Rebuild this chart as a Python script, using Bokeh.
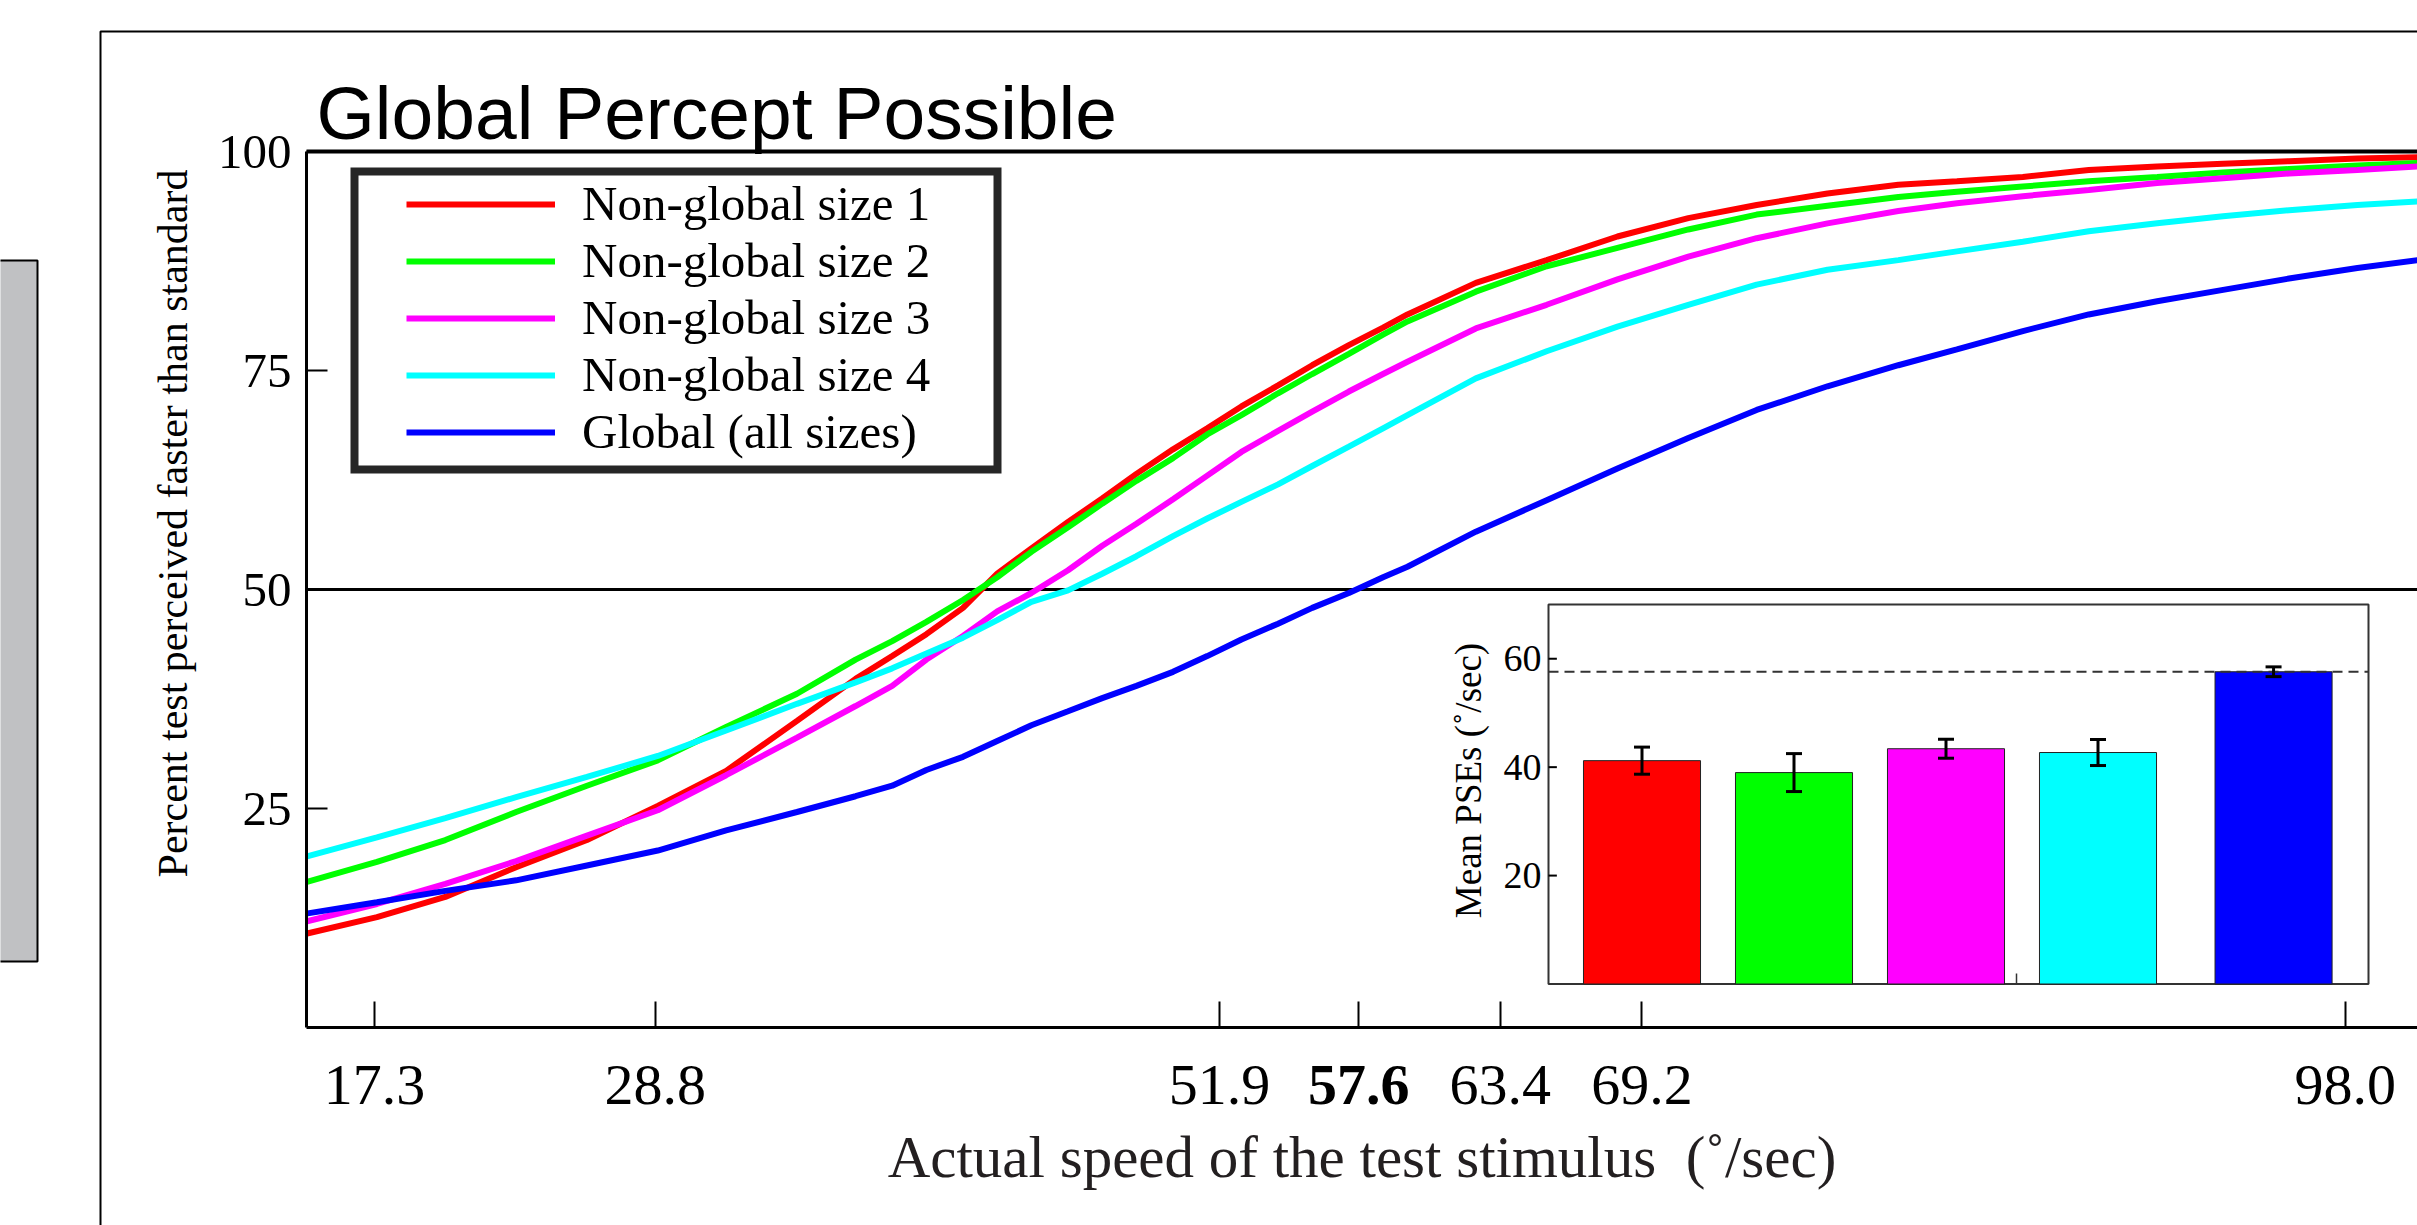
import numpy as np
from bokeh.plotting import figure
from bokeh.models import (Range1d, FixedTicker, Label, Legend, LegendItem,
                          BoxAnnotation, ColumnDataSource)
from bokeh.core.properties import value
from bokeh.embed import file_html
from bokeh.resources import INLINE

# ---------------- data ----------------
speed = [14.5, 17.4, 20.2, 23.1, 26.0, 28.9, 31.7, 34.6,
         37.0, 38.5, 39.9, 41.4, 42.8, 44.2, 45.7, 47.1, 48.5, 50.0, 51.4, 52.8, 54.3, 55.7, 57.2, 58.6,
         59.6, 62.4, 65.3, 68.2, 71.1, 73.9, 76.8, 79.7,
         82.1, 84.8, 87.5, 90.3, 93.0, 95.7, 98.5, 101.0]

size1 = [10.7, 12.6, 14.9, 18.3, 21.4, 25.3, 29.3, 35.0,
         39.8, 42.4, 44.9, 47.9, 51.8, 54.7, 57.7, 60.4, 63.2, 66.0, 68.4, 70.9, 73.3, 75.6, 77.9, 79.9,
         81.4, 85.0, 87.6, 90.3, 92.4, 93.9, 95.2, 96.2,
         96.6, 97.1, 97.9, 98.3, 98.6, 98.9, 99.2, 99.35]
size2 = [16.6, 18.9, 21.4, 24.6, 27.6, 30.5, 34.3, 38.1,
         42.0, 44.1, 46.3, 48.8, 51.4, 54.3, 57.1, 59.8, 62.4, 65.0, 67.7, 69.9, 72.4, 74.6, 76.9, 79.1,
         80.6, 84.0, 86.9, 89.0, 91.1, 92.8, 93.8, 94.8,
         95.4, 96.0, 96.6, 97.1, 97.6, 98.0, 98.4, 98.7]
size3 = [12.1, 14.1, 16.4, 19.0, 21.9, 24.8, 28.8, 33.1,
         36.7, 39.0, 42.0, 44.7, 47.5, 49.6, 52.2, 55.0, 57.5, 60.3, 63.0, 65.7, 68.1, 70.3, 72.6, 74.6,
         76.0, 79.8, 82.5, 85.4, 88.0, 90.1, 91.8, 93.2,
         94.1, 94.9, 95.6, 96.4, 96.95, 97.5, 97.9, 98.3]
size4 = [19.5, 21.7, 23.9, 26.3, 28.6, 31.0, 33.9, 36.95,
         39.4, 41.0, 42.7, 44.5, 46.5, 48.6, 49.9, 51.8, 53.8, 56.1, 58.1, 60.0, 62.0, 64.1, 66.3, 68.4,
         69.9, 74.1, 77.2, 80.0, 82.5, 84.8, 86.5, 87.6,
         88.6, 89.7, 90.9, 91.8, 92.6, 93.3, 93.9, 94.3]
global_all = [13.0, 14.3, 15.6, 16.8, 18.5, 20.2, 22.5, 24.6,
              26.4, 27.6, 29.4, 30.9, 32.7, 34.5, 36.1, 37.6, 39.0, 40.6, 42.4, 44.3, 46.1, 47.9, 49.6, 51.4,
              52.6, 56.6, 60.2, 63.8, 67.3, 70.5, 73.2, 75.6,
              77.4, 79.5, 81.4, 82.9, 84.2, 85.5, 86.7, 87.6]

series_names = ["Non-global size 1", "Non-global size 2", "Non-global size 3",
                "Non-global size 4", "Global (all sizes)"]
series_values = [size1, size2, size3, size4, global_all]
series_colors = ["#ff0000", "#00ff00", "#ff00ff", "#00ffff", "#0000ff"]

x_ticks = [17.3, 28.8, 51.9, 57.6, 63.4, 69.2, 98.0]
x_tick_labels = ["17.3", "28.8", "51.9", "57.6", "63.4", "69.2", "98.0"]
standard_speed = 57.6
y_ticks = [25, 50, 75, 100]
chance_level = 50
y_max = 100

pse_mean = [41.2, 39.0, 43.4, 42.7, 57.6]
pse_sem = [2.5, 3.5, 1.75, 2.4, 0.9]
inset_y_ticks = [20, 40, 60]
inset_y_tick_labels = ["20", "40", "60"]
inset_y_max = 70

# ---------------- layout (page pixels; canvas == page) ----------------
W, H = 2417, 1225
FR_L, FR_T, FR_B = 306, 151, 1027          # main plot area
X_REF_VAL, X_REF_PX, X_SCALE = 17.3, 374.0, 24.42
Y_SCALE = (FR_B - FR_T) / 100.0
X_LABEL_STANDOFF = 38


def px_x(px):
    return X_REF_VAL + (px - X_REF_PX) / X_SCALE


def px_y(py):
    return (FR_B - py) / Y_SCALE


IX0_PX, IX_SCALE = 1641.5, 152.0            # inset
IY0_PX, IY_SCALE = 983.5, 5.421


def ipx_x(px):
    return (px - IX0_PX) / IX_SCALE


def ipx_y(py):
    return (IY0_PX - py) / IY_SCALE


SERIF = "Liberation Serif"

p = figure(width=W, height=H, output_backend="svg", toolbar_location=None,
           x_range=Range1d(px_x(0), px_x(W)), y_range=Range1d(px_y(H), px_y(0)),
           min_border_left=0, min_border_right=0, min_border_top=0, min_border_bottom=0)
p.title.visible = False
p.extra_x_ranges = {"ix": Range1d(ipx_x(0), ipx_x(W))}
p.extra_y_ranges = {"iy": Range1d(ipx_y(H), ipx_y(0))}
p.grid.visible = False
p.outline_line_color = None
p.background_fill_color = "white"
p.border_fill_color = "white"

# decorations
p.add_layout(BoxAnnotation(left=px_x(100), right=px_x(2700), top=px_y(31), bottom=px_y(1500),
                           fill_alpha=0, line_color="black", line_alpha=1, line_width=2))
p.add_layout(BoxAnnotation(left=px_x(-30), right=px_x(37), top=px_y(260), bottom=px_y(961),
                           fill_color="#c0c1c3", fill_alpha=1, line_color="black", line_alpha=1,
                           line_width=2))

# title
p.add_layout(Label(x=px_x(316), y=px_y(112), text="Global Percept Possible",
                   text_font="Liberation Sans", text_font_size="75px", text_color="black",
                   text_align="left", text_baseline="middle"))

# reference lines (50 % and top)
x_left, x_right = px_x(FR_L), px_x(W + 20)
p.segment(x0=[x_left], x1=[x_right], y0=[chance_level], y1=[chance_level],
          line_color="black", line_width=3)
p.segment(x0=[x_left], x1=[x_right], y0=[y_max], y1=[y_max], line_color="black", line_width=4)

# curves
renderers = []
for name, vals, col in zip(series_names, series_values, series_colors):
    r = p.line(speed, vals, line_color=col, line_width=6)
    renderers.append(r)

# legend frame + legend
p.quad(left=[px_x(354)], right=[px_x(997)], top=[px_y(171)], bottom=[px_y(469)],
       fill_color=None, line_color="#262626", line_width=8, line_join="miter")
legend = Legend(items=[LegendItem(label=n, renderers=[r]) for n, r in zip(series_names, renderers)],
                location=(406, 765), padding=12, spacing=0, margin=0,
                glyph_width=149, glyph_height=40, label_standoff=27,
                label_text_font=SERIF, label_text_font_size="49px", label_text_color="black",
                border_line_color=None, background_fill_alpha=0)
p.add_layout(legend)

# axes (fixed at the plot-area edges)
xa = p.xaxis[0]
xa.fixed_location = 0
xa.bounds = (px_x(FR_L), px_x(W + 20))
xa.ticker = FixedTicker(ticks=x_ticks)
xa.major_label_overrides = {t: ("" if t == standard_speed else lab) for t, lab in zip(x_ticks, x_tick_labels)}
xa.major_tick_in = 26
xa.major_tick_out = 0
xa.major_tick_line_width = 2
xa.minor_tick_line_color = None
xa.axis_line_width = 3
xa.major_label_text_font = SERIF
xa.major_label_text_font_size = "58px"
xa.major_label_text_color = "black"
xa.major_label_standoff = X_LABEL_STANDOFF
xa.axis_label = "Actual speed of the test stimulus\u00a0 (\u02da/sec)"
xa.axis_label_text_font = SERIF
xa.axis_label_text_font_size = "59px"
xa.axis_label_text_font_style = "normal"
xa.axis_label_text_color = "#231f20"
xa.axis_label_standoff = 17

ya = p.yaxis[0]
ya.fixed_location = px_x(FR_L)
ya.bounds = (0, y_max)
ya.ticker = FixedTicker(ticks=y_ticks)
ya.major_tick_in = 21
ya.major_tick_out = 0
ya.major_tick_line_width = 2
ya.minor_tick_line_color = None
ya.axis_line_width = 3
ya.major_label_text_font = SERIF
ya.major_label_text_font_size = "49px"
ya.major_label_text_color = "black"
ya.major_label_standoff = 15

# bold standard tick label
p.add_layout(Label(x=standard_speed, y=px_y(FR_B + X_LABEL_STANDOFF), text="57.6", text_align="center",
                   text_baseline="top", text_font=SERIF, text_font_size="58px",
                   text_font_style="bold", text_color="black"))
# y axis title
p.add_layout(Label(x=px_x(172), y=px_y(523), text="Percent test perceived faster than standard",
                   angle=np.pi / 2, text_align="center", text_baseline="middle",
                   text_font=SERIF, text_font_size="42px", text_color="black"))

# ---------------- inset: mean PSEs ----------------
GLOBAL_GAP = 0.155
pos = np.arange(len(pse_mean)) + np.array([0, 0, 0, 0, GLOBAL_GAP])
mean = np.array(pse_mean)
sem = np.array(pse_sem)
in_l, in_r = ipx_x(1548), ipx_x(2368)

p.quad(left=[in_l], right=[in_r], bottom=[0], top=[inset_y_max], fill_color="white",
       line_color="#333333", line_width=2, x_range_name="ix", y_range_name="iy")
bsrc = ColumnDataSource(dict(x=pos, top=mean, color=series_colors))
p.vbar(x="x", top="top", bottom=0, width=0.77, fill_color="color", line_color="#222222",
       line_width=1, source=bsrc, x_range_name="ix", y_range_name="iy")
p.segment(x0=[in_l], x1=[in_r], y0=[standard_speed], y1=[standard_speed], line_color="#333333",
          line_width=2, line_dash="10 6", x_range_name="ix", y_range_name="iy")
p.segment(x0=pos, x1=pos, y0=mean - sem, y1=mean + sem, line_color="black", line_width=3,
          x_range_name="ix", y_range_name="iy")
p.scatter(x=np.concatenate([pos, pos]), y=np.concatenate([mean - sem, mean + sem]), marker="dash",
          size=16, line_color="black", line_width=3, x_range_name="ix", y_range_name="iy")
# small inset x tick
p.segment(x0=[ipx_x(2016)], x1=[ipx_x(2016)], y0=[0], y1=[ipx_y(973)], line_color="#333333",
          line_width=1.5, x_range_name="ix", y_range_name="iy")
p.segment(x0=[in_l] * 3, x1=[in_l + 0.055] * 3, y0=inset_y_ticks, y1=inset_y_ticks,
          line_color="black", line_width=2, x_range_name="ix", y_range_name="iy")
p.text(x=[in_l - 0.046] * 3, y=inset_y_ticks, text=inset_y_tick_labels, text_align="right",
       text_baseline="middle", text_font=value(SERIF), text_font_size="38px", text_color="black",
       x_range_name="ix", y_range_name="iy")
p.text(x=[ipx_x(1468)], y=[ipx_y(780)], text=["Mean PSEs (\u02da/sec)"], angle=np.pi / 2,
       text_align="center", text_baseline="middle", text_font=value(SERIF),
       text_font_size="37px", text_color="black", x_range_name="ix", y_range_name="iy")

open("out.html", "w").write(file_html(p, INLINE))
